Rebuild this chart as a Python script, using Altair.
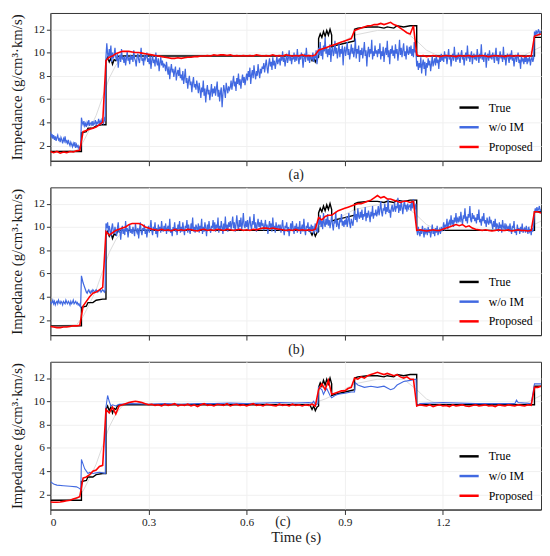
import altair as alt
import pandas as pd

X_TICKS = [0, 0.3, 0.6, 0.9, 1.2]
Y_TICKS = [2, 4, 6, 8, 10, 12]
SERIES = ["True", "w/o IM", "Proposed"]
COLORS = ["#000000", "#4169e1", "#ff0000"]
CAPTIONS = ["(a)", "(b)", "(c)"]

# smooth initial model (faint grey, not in legend)
T_INIT = [0, 0.08, 0.1, 0.12, 0.14, 0.16, 0.18, 0.2, 0.22, 0.24, 0.3, 0.8, 0.84, 0.87,
          0.93, 1.0, 1.08, 1.12, 1.15, 1.18, 1.45, 1.5]
V_INIT = [1.5, 1.6, 2.3, 3.4, 4.6, 6.2, 7.8, 8.9, 9.6, 9.8, 9.8, 9.8, 10.2, 10.6,
          11.5, 11.9, 11.9, 11.0, 10.2, 9.8, 9.8, 10.5]

# true impedance (same in all panels)
T_TRUE = [0, 0.095, 0.095, 0.11, 0.115, 0.13, 0.14, 0.16, 0.17, 0.17, 0.175, 0.18, 0.185,
          0.19, 0.195, 0.2, 0.205, 0.21, 0.79, 0.795, 0.8, 0.805, 0.81, 0.815, 0.82, 0.82,
          0.825, 0.83, 0.835, 0.84, 0.845, 0.85, 0.855, 0.86, 0.86, 0.87, 0.9, 0.93, 0.93,
          0.94, 0.97, 1.0, 1.02, 1.03, 1.05, 1.06, 1.08, 1.1, 1.12, 1.12, 1.48, 1.48, 1.5]
V_TRUE = [1.5, 1.5, 3.1, 3.2, 3.5, 3.5, 3.7, 3.8, 3.8, 9.3, 9.6, 9.2, 9.5,
          9.0, 9.4, 9.3, 9.6, 9.7, 9.7, 9.6, 9.3, 9.6, 9.2, 9.5, 9.6, 11.2,
          11.6, 11.3, 11.8, 11.4, 11.9, 11.5, 12.0, 11.5, 10.5, 10.6, 10.8, 11.0, 12.0,
          12.1, 12.2, 12.2, 12.1, 12.2, 12.1, 12.3, 12.2, 12.3, 12.3, 9.7, 9.7, 11.3, 11.3]

# w/o IM, panel (a): one row per 0.05 s, samples every 0.0025 s
BLUE_A_ROWS = [
    [3.2, 2.7, 3.0, 2.6, 2.9, 2.5, 2.8, 2.4, 2.7, 2.9, 2.5, 2.6, 2.3, 2.7, 2.5, 2.2, 2.6, 2.4, 2.8, 2.3],
    [2.4, 2.1, 2.5, 2.2, 2.0, 2.3, 2.1, 1.9, 2.2, 2.0, 2.3, 1.8, 2.1, 1.9, 2.0, 1.7, 1.9, 1.8, 4.4, 4.0],
    [3.8, 4.1, 3.7, 3.9, 3.6, 4.0, 3.8, 4.2, 3.7, 3.9, 4.0, 3.7, 4.1, 3.8, 3.9, 4.2, 3.8, 4.0, 3.9, 4.3],
    [3.9, 4.1, 3.8, 4.2, 4.0, 3.9, 4.3, 4.1, 9.6, 10.8, 9.9, 9.4, 10.3, 9.7, 10.6, 9.2, 10.0, 9.5, 9.8, 10.4],
    [9.6, 9.3, 9.9, 8.7, 9.5, 9.8, 9.2, 10.3, 9.4, 9.6, 9.1, 9.7, 8.9, 9.5, 10.1, 9.3, 9.6, 9.0, 9.8, 9.4],
    [9.7, 9.2, 10.2, 9.5, 9.3, 8.8, 9.6, 9.9, 9.4, 9.1, 9.7, 10.4, 9.3, 9.5, 8.9, 9.8, 9.4, 9.6, 10.0, 9.2],
    [9.5, 9.0, 9.7, 8.6, 9.3, 9.8, 9.1, 9.4, 8.8, 10.0, 9.2, 8.9, 9.5, 8.4, 9.1, 9.6, 8.9, 9.3, 8.7, 9.0],
    [8.9, 8.4, 9.2, 8.6, 8.1, 8.8, 7.7, 8.5, 9.0, 8.3, 8.6, 7.9, 8.4, 8.8, 7.6, 8.2, 8.5, 8.0, 8.7, 7.8],
    [8.1, 7.6, 8.4, 7.3, 7.9, 8.6, 7.4, 7.8, 6.9, 7.6, 8.0, 7.2, 7.5, 6.6, 7.4, 7.9, 7.0, 7.3, 6.8, 7.6],
    [7.1, 6.5, 7.4, 6.8, 6.1, 7.0, 6.6, 7.6, 6.3, 6.9, 5.7, 6.7, 7.2, 6.4, 6.8, 5.9, 6.6, 7.3, 6.2, 6.9],
    [6.5, 7.1, 6.3, 6.9, 7.5, 6.2, 6.8, 5.8, 6.6, 7.0, 5.3, 6.4, 7.2, 6.7, 6.1, 7.4, 6.9, 6.5, 7.1, 6.8],
    [7.0, 7.6, 6.8, 7.4, 8.0, 7.1, 7.5, 6.7, 7.8, 7.3, 8.2, 7.2, 7.7, 6.9, 7.6, 8.1, 7.4, 7.9, 7.2, 7.7],
    [8.2, 7.6, 8.4, 7.9, 8.7, 7.3, 8.1, 8.5, 7.8, 8.9, 8.2, 7.7, 8.4, 8.0, 9.0, 8.3, 7.8, 8.6, 8.2, 8.8],
    [8.6, 9.1, 8.3, 8.9, 9.4, 8.7, 8.2, 9.0, 9.5, 8.8, 9.2, 8.5, 9.6, 8.9, 9.3, 8.6, 9.1, 9.7, 9.0, 9.3],
    [9.5, 8.9, 9.7, 9.3, 10.1, 9.2, 9.6, 8.8, 9.4, 9.9, 9.1, 9.5, 10.2, 9.3, 9.7, 9.0, 9.6, 9.4, 10.0, 9.2],
    [9.7, 9.3, 10.3, 9.5, 9.0, 9.8, 9.4, 10.0, 9.6, 8.7, 9.5, 9.9, 9.2, 10.4, 9.6, 9.3, 9.8, 9.1, 9.7, 9.5],
    [9.4, 10.0, 9.2, 9.7, 9.5, 10.2, 9.0, 9.6, 10.4, 9.8, 10.9, 9.7, 10.3, 9.4, 10.6, 10.1, 11.3, 9.9, 10.4, 9.6],
    [10.3, 9.8, 10.7, 9.2, 10.2, 10.5, 9.7, 10.0, 11.0, 9.9, 10.4, 9.5, 10.1, 10.8, 9.6, 10.3, 9.9, 10.6, 8.9, 10.2],
    [10.5, 9.7, 10.2, 10.9, 9.8, 10.3, 9.4, 10.0, 10.7, 9.9, 10.4, 9.6, 10.1, 11.2, 9.5, 10.3, 9.9, 10.6, 9.2, 10.2],
    [9.8, 10.4, 9.5, 10.1, 10.9, 9.7, 10.2, 8.8, 10.0, 10.5, 9.6, 10.3, 9.9, 11.1, 9.4, 10.1, 9.7, 10.6, 9.9, 10.2],
    [9.6, 10.3, 9.9, 10.8, 9.4, 10.1, 9.7, 10.5, 9.2, 10.0, 10.4, 9.8, 11.0, 9.6, 10.2, 9.0, 10.3, 9.9, 10.6, 9.7],
    [10.2, 9.5, 10.7, 9.9, 10.3, 9.3, 10.0, 11.1, 9.8, 10.4, 9.6, 10.2, 10.8, 9.7, 10.1, 9.4, 10.6, 10.0, 9.8, 10.5],
    [9.9, 10.6, 9.7, 10.3, 9.6, 10.9, 10.0, 10.2, 8.8, 9.3, 8.5, 9.1, 8.7, 9.6, 8.2, 9.0, 9.4, 8.6, 9.2, 8.0],
    [9.1, 8.7, 9.5, 8.9, 9.3, 8.4, 9.0, 9.7, 8.8, 9.2, 9.5, 8.9, 9.8, 9.1, 9.4, 8.6, 9.6, 9.2, 9.9, 9.3],
    [9.7, 9.2, 10.1, 9.5, 9.8, 9.0, 9.6, 10.3, 9.4, 9.7, 8.8, 9.5, 9.9, 9.3, 10.5, 9.6, 9.2, 9.8, 9.4, 10.0],
    [9.5, 9.1, 9.8, 10.2, 9.4, 9.7, 8.9, 9.6, 10.0, 9.3, 10.6, 9.5, 9.8, 9.2, 9.7, 10.1, 9.0, 9.6, 9.9, 9.4],
    [9.8, 9.3, 10.3, 9.6, 9.1, 9.9, 9.5, 10.7, 9.4, 9.7, 9.2, 9.8, 10.0, 8.7, 9.6, 9.9, 9.3, 10.2, 9.5, 9.7],
    [9.4, 10.0, 9.6, 9.1, 9.8, 10.4, 9.3, 9.7, 9.0, 9.6, 10.1, 9.5, 9.8, 9.2, 10.5, 9.4, 9.7, 8.9, 9.6, 9.9],
    [9.5, 9.1, 9.9, 9.4, 10.2, 9.3, 9.6, 8.8, 9.5, 9.8, 9.2, 9.6, 10.0, 9.1, 9.4, 8.6, 9.7, 9.3, 9.5, 9.0],
    [9.6, 9.2, 9.8, 9.0, 9.5, 9.3, 9.7, 8.9, 9.4, 9.6, 9.2, 9.5, 11.8, 11.4, 11.9, 11.6, 11.8, 12.0, 11.5, 11.8],
    [11.7],
]

# w/o IM, panel (b): one row per 0.05 s, samples every 0.0025 s
BLUE_B_ROWS = [
    [3.6, 3.4, 3.5, 3.7, 3.4, 3.6, 3.3, 3.5, 3.6, 3.4, 3.7, 3.5, 3.4, 3.6, 3.5, 3.3, 3.6, 3.5, 3.4, 3.7],
    [3.5, 3.4, 3.6, 3.5, 3.3, 3.6, 3.4, 3.5, 3.7, 3.4, 3.5, 3.6, 3.4, 3.5, 3.3, 3.4, 3.2, 3.1, 5.8, 5.5],
    [5.2, 5.0, 4.8, 4.6, 4.4, 4.3, 4.5, 4.6, 4.4, 4.3, 4.5, 4.4, 4.6, 4.5, 4.4, 4.5, 4.6, 4.5, 4.4, 4.5],
    [4.5, 4.6, 4.4, 4.5, 4.6, 4.5, 4.4, 4.6, 10.3, 9.9, 10.4, 9.5, 10.1, 9.7, 9.2, 9.9, 10.3, 9.6, 9.4, 10.0],
    [9.6, 9.2, 9.9, 10.4, 9.5, 9.8, 8.9, 9.7, 10.1, 9.4, 9.8, 9.3, 10.5, 9.6, 9.9, 9.1, 9.7, 10.2, 9.5, 9.8],
    [9.4, 10.0, 9.6, 9.2, 10.3, 9.7, 9.5, 9.9, 9.0, 9.8, 10.4, 9.6, 9.3, 9.9, 9.7, 10.2, 9.4, 9.8, 9.1, 9.7],
    [10.1, 9.5, 9.9, 10.6, 9.7, 9.3, 10.0, 9.8, 10.4, 9.4, 9.9, 9.1, 10.2, 9.7, 10.0, 9.5, 10.5, 9.8, 9.6, 10.1],
    [9.7, 10.3, 9.4, 9.9, 10.1, 9.6, 10.7, 9.5, 9.8, 9.2, 10.0, 9.7, 10.4, 9.6, 9.9, 9.3, 10.2, 9.8, 10.5, 9.5],
    [10.0, 9.6, 10.4, 9.8, 9.3, 10.1, 9.9, 10.6, 9.5, 10.2, 9.7, 9.4, 10.3, 9.8, 10.8, 9.6, 10.0, 9.5, 10.2, 9.9],
    [9.7, 10.3, 9.5, 10.1, 9.8, 10.7, 9.4, 10.0, 9.6, 10.4, 9.9, 9.2, 10.2, 9.7, 10.5, 9.8, 9.5, 10.1, 9.9, 10.6],
    [9.8, 10.4, 9.6, 10.2, 9.9, 10.8, 9.5, 10.1, 9.7, 10.5, 10.0, 9.4, 10.3, 9.8, 10.9, 9.7, 10.2, 9.6, 10.4, 10.0],
    [10.5, 9.8, 10.3, 10.9, 9.9, 10.4, 9.6, 10.2, 11.0, 10.1, 9.7, 10.6, 10.0, 10.8, 9.8, 10.3, 11.2, 10.1, 9.9, 10.5],
    [10.0, 10.6, 9.7, 10.3, 10.9, 10.1, 9.8, 10.5, 10.2, 11.1, 9.9, 10.4, 9.6, 10.2, 10.7, 10.0, 10.4, 9.8, 10.6, 10.1],
    [10.3, 9.7, 10.1, 10.6, 9.8, 10.2, 9.4, 10.0, 10.5, 9.9, 10.3, 9.6, 10.8, 9.9, 10.1, 9.5, 10.4, 9.8, 10.0, 10.2],
    [9.7, 10.2, 9.5, 10.0, 10.6, 9.8, 9.3, 10.1, 9.9, 10.4, 9.6, 10.0, 9.2, 9.8, 10.3, 9.7, 10.5, 9.9, 9.4, 10.1],
    [9.8, 10.3, 9.5, 10.0, 9.7, 10.5, 9.4, 9.9, 10.2, 9.6, 10.7, 9.8, 9.3, 10.1, 9.9, 10.4, 9.6, 10.0, 9.5, 10.2],
    [9.7, 10.1, 9.4, 9.9, 10.3, 9.6, 9.8, 9.5, 10.6, 10.2, 11.0, 10.0, 10.5, 9.8, 11.2, 10.3, 10.0, 10.7, 10.2, 11.1],
    [10.1, 10.6, 9.9, 10.4, 11.0, 10.2, 9.7, 10.5, 10.3, 11.3, 10.0, 10.6, 10.2, 9.8, 10.7, 10.4, 11.1, 10.1, 10.5, 10.0],
    [10.6, 10.2, 10.9, 10.0, 10.5, 11.2, 10.3, 9.9, 10.7, 10.4, 10.1, 10.8, 11.4, 10.6, 11.1, 10.4, 11.6, 10.9, 10.7, 11.3],
    [10.8, 11.5, 10.6, 11.1, 10.9, 11.7, 10.5, 11.2, 10.8, 11.4, 11.0, 10.4, 11.3, 10.9, 11.8, 10.7, 11.2, 11.0, 11.5, 10.9],
    [11.2, 11.8, 11.0, 11.5, 12.2, 11.3, 10.9, 11.6, 11.4, 12.0, 11.1, 11.7, 11.3, 12.4, 11.2, 11.5, 10.8, 11.6, 11.9, 11.3],
    [11.5, 12.1, 11.3, 11.8, 11.6, 12.5, 11.2, 11.9, 11.4, 12.2, 11.7, 11.1, 11.8, 12.3, 11.5, 11.9, 11.3, 12.0, 11.6, 11.8],
    [11.9, 11.4, 12.2, 11.6, 12.4, 11.8, 11.5, 12.0, 9.8, 9.3, 10.0, 9.5, 9.2, 9.8, 9.4, 10.1, 9.6, 9.1, 9.9, 9.5],
    [9.7, 9.3, 10.0, 9.5, 9.8, 9.1, 9.6, 10.2, 9.4, 9.7, 9.2, 9.9, 9.5, 10.1, 9.3, 9.6, 9.8, 9.4, 10.0, 9.7],
    [9.9, 10.4, 9.7, 10.2, 10.0, 10.7, 9.8, 10.3, 10.5, 10.1, 11.0, 10.2, 10.6, 10.0, 10.8, 10.4, 11.2, 10.3, 10.7, 10.5],
    [10.9, 10.4, 11.3, 10.6, 10.2, 11.0, 10.7, 11.6, 10.5, 10.9, 10.3, 11.1, 10.8, 11.8, 10.6, 10.4, 11.2, 10.7, 11.0, 10.5],
    [10.8, 10.3, 11.1, 10.6, 11.5, 10.4, 10.7, 10.1, 10.9, 10.5, 11.2, 10.3, 10.6, 10.0, 10.8, 10.4, 10.2, 10.9, 10.3, 10.6],
    [10.2, 9.8, 10.5, 10.0, 10.7, 9.7, 10.3, 10.1, 9.6, 10.4, 9.9, 10.2, 9.5, 10.6, 10.0, 9.8, 10.3, 9.7, 10.1, 9.9],
    [10.0, 9.6, 10.3, 9.8, 9.4, 10.1, 9.9, 10.5, 9.5, 9.8, 9.3, 10.2, 9.7, 9.9, 9.4, 10.0, 9.6, 10.3, 9.5, 9.8],
    [9.9, 9.5, 10.1, 9.7, 9.4, 10.0, 9.6, 9.8, 9.3, 9.9, 9.6, 10.2, 11.2, 11.6, 11.3, 11.7, 11.4, 11.5, 11.8, 11.4],
    [11.5],
]

# w/o IM, panel (c)
T_BLUE_C = [0, 0.01, 0.02, 0.04, 0.06, 0.08, 0.09, 0.093, 0.095, 0.1, 0.105, 0.11, 0.115,
            0.12, 0.13, 0.14, 0.15, 0.16, 0.168, 0.17, 0.175, 0.18, 0.185, 0.19, 0.2, 0.21,
            0.25, 0.3, 0.35, 0.4, 0.45, 0.5, 0.55, 0.6, 0.65, 0.7, 0.75, 0.79, 0.8, 0.805,
            0.81, 0.818, 0.82, 0.83, 0.835, 0.84, 0.845, 0.85, 0.855, 0.86, 0.87, 0.88, 0.9,
            0.92, 0.93, 0.932, 0.94, 0.96, 0.98, 1.0, 1.02, 1.04, 1.05, 1.06, 1.08, 1.1,
            1.118, 1.12, 1.13, 1.2, 1.3, 1.42, 1.425, 1.43, 1.47, 1.48, 1.5]
V_BLUE_C = [3.1, 2.9, 2.8, 2.75, 2.7, 2.65, 2.5, 2.4, 5.0, 4.6, 4.2, 4.0, 3.8,
            3.9, 3.8, 3.85, 3.9, 3.85, 3.8, 9.5, 10.5, 10.0, 9.6, 9.7, 9.6, 9.75,
            9.8, 9.75, 9.8, 9.75, 9.8, 9.8, 9.85, 9.8, 9.85, 9.9, 9.85, 9.9, 9.85, 10.0,
            9.7, 9.8, 11.2, 11.0, 10.6, 10.9, 11.1, 10.8, 10.5, 10.3, 10.5, 10.6, 10.7,
            10.8, 10.8, 11.6, 11.4, 11.2, 11.3, 11.2, 11.3, 11.0, 11.1, 11.4, 11.7, 11.8,
            11.9, 9.6, 9.8, 9.9, 9.8, 9.8, 10.1, 9.9, 9.8, 11.5, 11.5]

# Proposed: samples every 0.01 s
RED_A = (
    [1.5, 1.4, 1.5, 1.35, 1.45, 1.4, 1.5, 1.45, 1.55, 1.6]
    + [3.2, 3.3, 3.4, 3.5, 3.6, 3.8, 4.0]
    + [9.3, 9.6, 9.7, 9.9, 10.0, 10.1, 10.1, 10.1, 10.05, 10.0, 10.0, 9.95, 9.9, 9.85]
    + [9.8, 9.75, 9.7, 9.65, 9.6, 9.55, 9.5, 9.5, 9.55, 9.5, 9.55, 9.6, 9.6, 9.65, 9.65,
       9.7, 9.7, 9.75, 9.7, 9.8, 9.75, 9.8, 9.8, 9.75, 9.8, 9.7, 9.75, 9.7, 9.75, 9.7]
    + [9.75, 9.7, 9.8, 9.75, 9.7, 9.75, 9.7, 9.8, 9.7, 9.75, 9.7, 9.8, 9.75, 9.7, 9.75,
       9.7, 9.8, 9.7, 9.75, 9.7, 9.8]
    + [10.2, 10.3, 10.4, 10.5, 10.6, 10.7, 10.8, 10.9, 11.0, 11.1, 11.2]
    + [11.9, 12.0, 12.1, 12.2, 12.3, 12.3, 12.4, 12.4, 12.5, 12.4, 12.5, 12.6, 12.4, 12.3,
       12.1, 11.9, 11.7, 11.6, 12.3]
    + [9.8, 9.7, 9.75, 9.65, 9.7, 9.75, 9.7, 9.65, 9.7, 9.75, 9.7, 9.7, 9.65, 9.75, 9.7,
       9.7, 9.75, 9.65, 9.7, 9.7, 9.75, 9.7, 9.65, 9.7, 9.75, 9.7, 9.7, 9.65, 9.75, 9.7,
       9.7, 9.75, 9.7, 9.65, 9.7, 9.7]
    + [11.4, 11.5, 11.6]
)
RED_B = (
    [1.45, 1.4, 1.35, 1.35, 1.4, 1.4, 1.45, 1.5, 1.5, 1.55]
    + [3.2, 3.6, 4.0, 4.3, 4.4, 4.6, 4.8]
    + [9.6, 9.3, 9.5, 9.7, 9.8, 9.9, 10.0, 10.2, 10.3, 10.3, 10.3, 10.2, 10.0, 9.9, 9.8]
    + [9.75, 9.7, 9.8, 9.7, 9.75, 9.65, 9.8, 9.7, 9.75, 9.7, 9.8, 9.75, 9.7, 9.65, 9.75,
       9.8, 9.7, 9.75, 9.7, 9.8, 9.75, 9.7, 9.8, 9.75, 9.7, 9.75, 9.8, 9.7, 9.75, 9.7,
       9.8, 9.75, 9.85, 9.9, 9.9, 9.85, 9.9, 9.85, 9.8, 9.75, 9.7, 9.75, 9.7, 9.8, 9.7,
       9.75, 9.7, 9.75, 9.7, 9.8]
    + [10.8, 10.6, 10.9, 11.0, 11.0, 11.2, 11.4, 11.5, 11.6, 11.7, 11.8]
    + [11.9, 12.0, 12.0, 12.1, 12.2, 12.3, 12.5, 12.7, 12.5, 12.6, 12.4, 12.4, 12.3, 12.2,
       12.1, 12.2, 12.2, 12.1, 12.2]
    + [9.7, 9.75, 9.7, 9.65, 9.7, 9.75, 9.7, 9.7, 9.8, 9.9, 10.0, 10.1, 10.2, 10.1, 10.2,
       10.0, 10.1, 9.9, 9.8, 9.75, 9.7, 9.75, 9.7, 9.65, 9.7, 9.75, 9.7, 9.7, 9.75, 9.65,
       9.7, 9.75, 9.7, 9.7, 9.65, 9.7]
    + [11.3, 11.3, 11.2]
)
RED_C = (
    [1.35, 1.33, 1.32, 1.35, 1.4, 1.45, 1.5, 1.6, 1.7, 1.8]
    + [3.4, 3.5, 3.7, 4.0, 4.1, 4.4, 4.5]
    + [9.3, 9.0, 9.5, 8.9, 9.6, 9.7, 9.8, 9.9, 9.95, 10.0, 9.95, 9.9, 9.8, 9.7]
    + [9.75, 9.65, 9.7, 9.6, 9.75, 9.65, 9.7, 9.8, 9.6, 9.7, 9.65, 9.75, 9.6, 9.7, 9.55,
       9.7, 9.8, 9.65, 9.7, 9.6, 9.75, 9.7, 9.65, 9.8, 9.6, 9.7, 9.75, 9.65, 9.7, 9.6,
       9.7, 9.8, 9.65, 9.7, 9.6, 9.75, 9.7, 9.65, 9.6, 9.75, 9.65, 9.7, 9.6, 9.75, 9.65,
       9.7, 9.6, 9.7, 9.65, 9.75, 9.6]
    + [11.0, 11.5, 11.0, 11.8, 10.6, 10.7, 10.8, 10.9, 10.9, 11.1, 11.2]
    + [12.0, 11.9, 12.1, 12.0, 12.2, 12.3, 12.4, 12.5, 12.4, 12.3, 12.4, 12.3, 12.2, 12.3,
       12.1, 12.0, 12.1, 11.9, 11.9]
    + [9.6, 9.7, 9.65, 9.6, 9.7, 9.55, 9.65, 9.7, 9.6, 9.65, 9.55, 9.7, 9.6, 9.65, 9.7,
       9.6, 9.55, 9.65, 9.7, 9.6, 9.65, 9.7, 9.6, 9.65, 9.55, 9.7, 9.65, 9.6, 9.7, 9.65,
       9.6, 9.7, 9.65, 9.6, 9.7, 9.65]
    + [11.2, 11.2, 11.3]
)

W, H = 498, 150
FONT = "Liberation Serif, Times New Roman, serif"


def frame(ts, vs, name):
    n = min(len(ts), len(vs))
    return pd.DataFrame({"t": list(ts)[:n], "v": list(vs)[:n], "series": name,
                         "idx": list(range(n))})


def grid_times(vals, step):
    return [round(i * step, 4) for i in range(len(vals))]


def rows_frame(rows, row_dt, step, name):
    ts, vs = [], []
    for r, row in enumerate(rows):
        for k, v in enumerate(row):
            ts.append(round(r * row_dt + k * step, 5))
            vs.append(v)
    return frame(ts, vs, name)


def panel(blue_df, red_df, caption, last, blue_width):
    if last:
        xaxis = alt.Axis(values=X_TICKS, format="~g", labelFontSize=11.5, labelPadding=2,
                         tickSize=5, title="Time (s)", titleFontSize=15, titlePadding=2,
                         grid=True)
    else:
        xaxis = alt.Axis(values=X_TICKS, labels=False, tickSize=5, title=caption,
                         titleFontSize=14, titlePadding=2, grid=True)
    x = alt.X("t:Q", scale=alt.Scale(domain=[0, 1.5], nice=False, zero=False), axis=xaxis)
    y = alt.Y("v:Q", scale=alt.Scale(domain=[0.7, 13.4], nice=False, zero=False),
              axis=alt.Axis(values=Y_TICKS, title="Impedance (g/cm³·km/s)", titleFontSize=15,
                            titlePadding=9, labelFontSize=11.5, tickSize=4, labelPadding=2,
                            grid=True))
    color = alt.Color("series:N", scale=alt.Scale(domain=SERIES, range=COLORS),
                      legend=alt.Legend(title=None, orient="bottom-right", offset=6,
                                        symbolType="stroke", symbolStrokeWidth=2.5,
                                        symbolSize=380, labelFont=FONT, labelFontSize=12,
                                        rowPadding=3, labelOffset=9, padding=2))
    order = alt.Order("idx:Q")
    init = alt.Chart(frame(T_INIT, V_INIT, "Initial")).mark_line(
        clip=True, strokeWidth=1, color="#dadada").encode(x=x, y=y, order=order)
    true = alt.Chart(frame(T_TRUE, V_TRUE, "True")).mark_line(
        clip=True, strokeWidth=1.4).encode(x=x, y=y, color=color, order=order)
    blue = alt.Chart(blue_df).mark_line(clip=True, strokeWidth=blue_width).encode(
        x=x, y=y, color=color, order=order)
    red = alt.Chart(red_df).mark_line(clip=True, strokeWidth=1.6).encode(
        x=x, y=y, color=color, order=order)
    layers = [init, true, blue, red]
    if last:
        cap = alt.Chart(pd.DataFrame({"label": [caption]})).mark_text(
            font=FONT, fontSize=14, align="center", baseline="middle", color="#1a1a1a"
        ).encode(x=alt.value(236), y=alt.value(H + 13), text="label:N")
        layers.append(cap)
    return alt.layer(*layers).properties(width=W, height=H)


pa = panel(rows_frame(BLUE_A_ROWS, 0.05, 0.0025, "w/o IM"),
           frame(grid_times(RED_A, 0.01), RED_A, "Proposed"), CAPTIONS[0], False, 1.25)
pb = panel(rows_frame(BLUE_B_ROWS, 0.05, 0.0025, "w/o IM"),
           frame(grid_times(RED_B, 0.01), RED_B, "Proposed"), CAPTIONS[1], False, 1.25)
pc = panel(frame(T_BLUE_C, V_BLUE_C, "w/o IM"),
           frame(grid_times(RED_C, 0.01), RED_C, "Proposed"), CAPTIONS[2], True, 1.1)

chart = alt.vconcat(pa, pb, pc, spacing=4).resolve_scale(color="independent").resolve_legend(
    color="independent"
).properties(padding=0).configure(font=FONT).configure_view(
    stroke="#333333", strokeWidth=1
).configure_axis(
    domainColor="#333333", tickColor="#333333", labelColor="#1a1a1a", titleColor="#1a1a1a",
    labelFont=FONT, titleFont=FONT, titleFontWeight="normal", gridColor="#f0f0f0"
)

chart.save("out.html", embed_options={"renderer": "svg", "actions": False})
